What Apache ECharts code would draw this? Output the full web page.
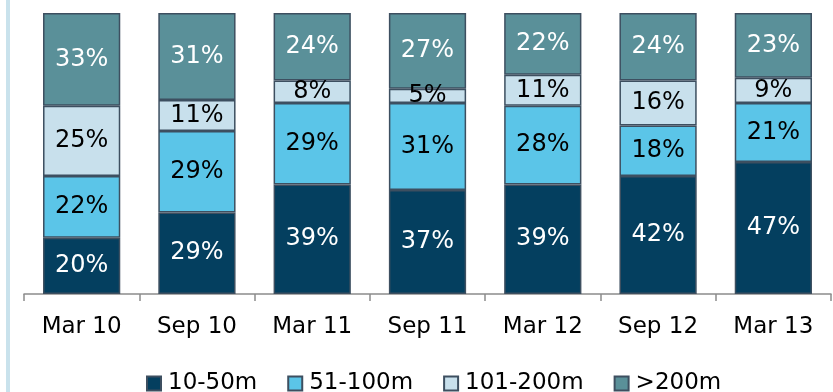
<!DOCTYPE html>
<html>
<head>
<meta charset="utf-8">
<script src="https://cdn.jsdelivr.net/npm/echarts@6/dist/echarts.min.js"></script>
<style>
  html, body { margin: 0; padding: 0; background: #fff; }
  #chart { width: 833px; height: 392px; }
</style>
</head>
<body>
<div id="chart"></div>
<script>
// 数据
const categories = ['Mar 10', 'Sep 10', 'Mar 11', 'Sep 11', 'Mar 12', 'Sep 12', 'Mar 13'];
const s10to50 = [20, 29, 39, 37, 39, 42, 47];
const s51to100 = [22, 29, 29, 31, 28, 18, 21];
const s101to200 = [25, 11, 8, 5, 11, 16, 9];
const sOver200 = [33, 31, 24, 27, 22, 24, 23];

const FONT = '"DejaVu Sans", Verdana, sans-serif';
const BORDER = '#3d4f60';

function makeSeries(name, data, color, textColor) {
  return {
    name: name,
    type: 'bar',
    stack: 'total',
    barWidth: '67%',
    data: data,
    itemStyle: { color: color, borderColor: BORDER, borderWidth: 1.5 },
    label: {
      show: true,
      position: 'inside',
      formatter: '{c}%',
      color: textColor,
      fontFamily: FONT,
      fontSize: 24
    },
    emphasis: { disabled: true }
  };
}

const chart = echarts.init(document.getElementById('chart'));
chart.setOption({
  animation: false,
  // 左侧浅蓝色竖条
  graphic: [{
    type: 'rect',
    left: 6,
    top: 0,
    shape: { width: 4, height: 392 },
    style: { fill: '#c9e2ec' }
  }],
  grid: { left: 24, right: 2, top: 13, bottom: 98 },
  legend: {
    left: 141,
    top: 367,
    itemWidth: 14,
    itemHeight: 14,
    itemGap: 30,
    icon: 'rect',
    textStyle: { fontFamily: FONT, fontSize: 23, color: '#000', padding: [0, 0, 0, 2] },
    data: ['10-50m', '51-100m', '101-200m', '>200m']
  },
  xAxis: {
    type: 'category',
    data: categories,
    axisLine: { lineStyle: { color: '#8c8c8c', width: 1.5 } },
    axisTick: { show: true, length: 7, lineStyle: { color: '#8c8c8c', width: 1.5 } },
    axisLabel: { color: '#000', fontFamily: FONT, fontSize: 23, margin: 22 }
  },
  yAxis: {
    type: 'value',
    min: 0,
    max: 100,
    show: false
  },
  series: [
    makeSeries('10-50m', s10to50, '#043f5f', '#fff'),
    makeSeries('51-100m', s51to100, '#5bc5e8', '#000'),
    makeSeries('101-200m', s101to200, '#c8e0ec', '#000'),
    makeSeries('>200m', sOver200, '#5a9099', '#fff')
  ]
});
</script>
</body>
</html>
